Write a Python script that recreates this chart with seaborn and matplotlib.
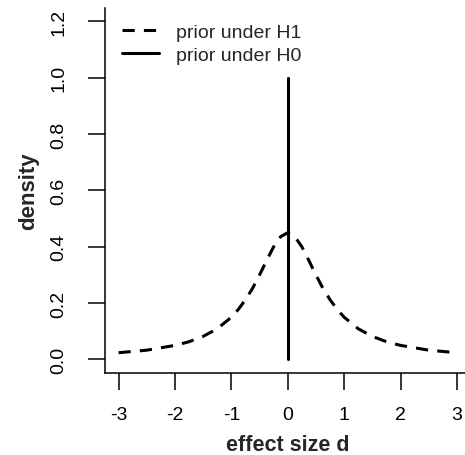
import pandas as pd
import seaborn as sns
import matplotlib.pyplot as plt

# values
effect_d = [-3.0, -2.5, -2.0, -1.75, -1.5, -1.25, -1.0, -0.875, -0.75, -0.625,
            -0.5, -0.375, -0.25, -0.125, 0.0, 0.125, 0.25, 0.375, 0.5, 0.625,
            0.75, 0.875, 1.0, 1.25, 1.5, 1.75, 2.0, 2.5, 3.0]
density_h1 = [0.024, 0.033, 0.050, 0.063, 0.082, 0.109, 0.150, 0.178, 0.212, 0.252,
              0.300, 0.351, 0.400, 0.436, 0.450, 0.436, 0.400, 0.351, 0.300, 0.252,
              0.212, 0.178, 0.150, 0.109, 0.082, 0.063, 0.050, 0.033, 0.024]
spike_d = [0.0, 0.0]
spike_density = [0.0, 1.0]

x_ticks = [-3, -2, -1, 0, 1, 2, 3]
x_tick_labels = ["-3", "-2", "-1", "0", "1", "2", "3"]
y_ticks = [0.0, 0.2, 0.4, 0.6, 0.8, 1.0, 1.2]
y_tick_labels = ["0.0", "0.2", "0.4", "0.6", "0.8", "1.0", "1.2"]

h1 = pd.DataFrame({"d": effect_d, "density": density_h1})
h0 = pd.DataFrame({"d": spike_d, "density": spike_density})

sns.set_theme(style="ticks")
plt.rcParams["font.family"] = ["Liberation Sans", "DejaVu Sans"]
plt.rcParams["axes.unicode_minus"] = False

fig = plt.figure(figsize=(4.65, 4.56), dpi=100)
ax = fig.add_axes([0.2258, 0.1798, 0.786, 0.8009])

sns.lineplot(data=h1, x="d", y="density", ax=ax, color="black", lw=2.2,
             estimator=None, sort=False, label="prior under H1",
             dashes=False, linestyle=(0, (4, 3)))
sns.lineplot(data=h0, x="d", y="density", ax=ax, color="black", lw=2.2,
             estimator=None, sort=False, label="prior under H0")

ax.set_xlim(-3.24, 3.24)
ax.set_ylim(-0.048, 1.248)

ax.set_xticks(x_ticks)
ax.set_xticklabels(x_tick_labels)
ax.set_yticks(y_ticks)
ax.set_yticklabels(y_tick_labels, rotation=90, va="center")

ax.tick_params(axis="both", direction="out", length=12, width=1.1,
               labelsize=14, colors="black")
ax.tick_params(axis="x", pad=12)
ax.tick_params(axis="y", pad=15)

sns.despine(ax=ax)
for s in ["left", "bottom"]:
    ax.spines[s].set_linewidth(1.1)
    ax.spines[s].set_color("black")

ax.set_xlabel("effect size d", fontsize=15.5, fontweight="bold")
ax.set_ylabel("density", fontsize=16, fontweight="bold")
ax.xaxis.set_label_coords(0.5, -0.167)
ax.yaxis.set_label_coords(-0.18, 0.5)

ax.legend(loc="upper left", bbox_to_anchor=(0.046, 0.957), frameon=False,
          fontsize=14, borderpad=0, borderaxespad=0, handlelength=1.9,
          handletextpad=0.88, labelspacing=0.27)

fig.savefig("out.png", dpi=100, facecolor="white")
